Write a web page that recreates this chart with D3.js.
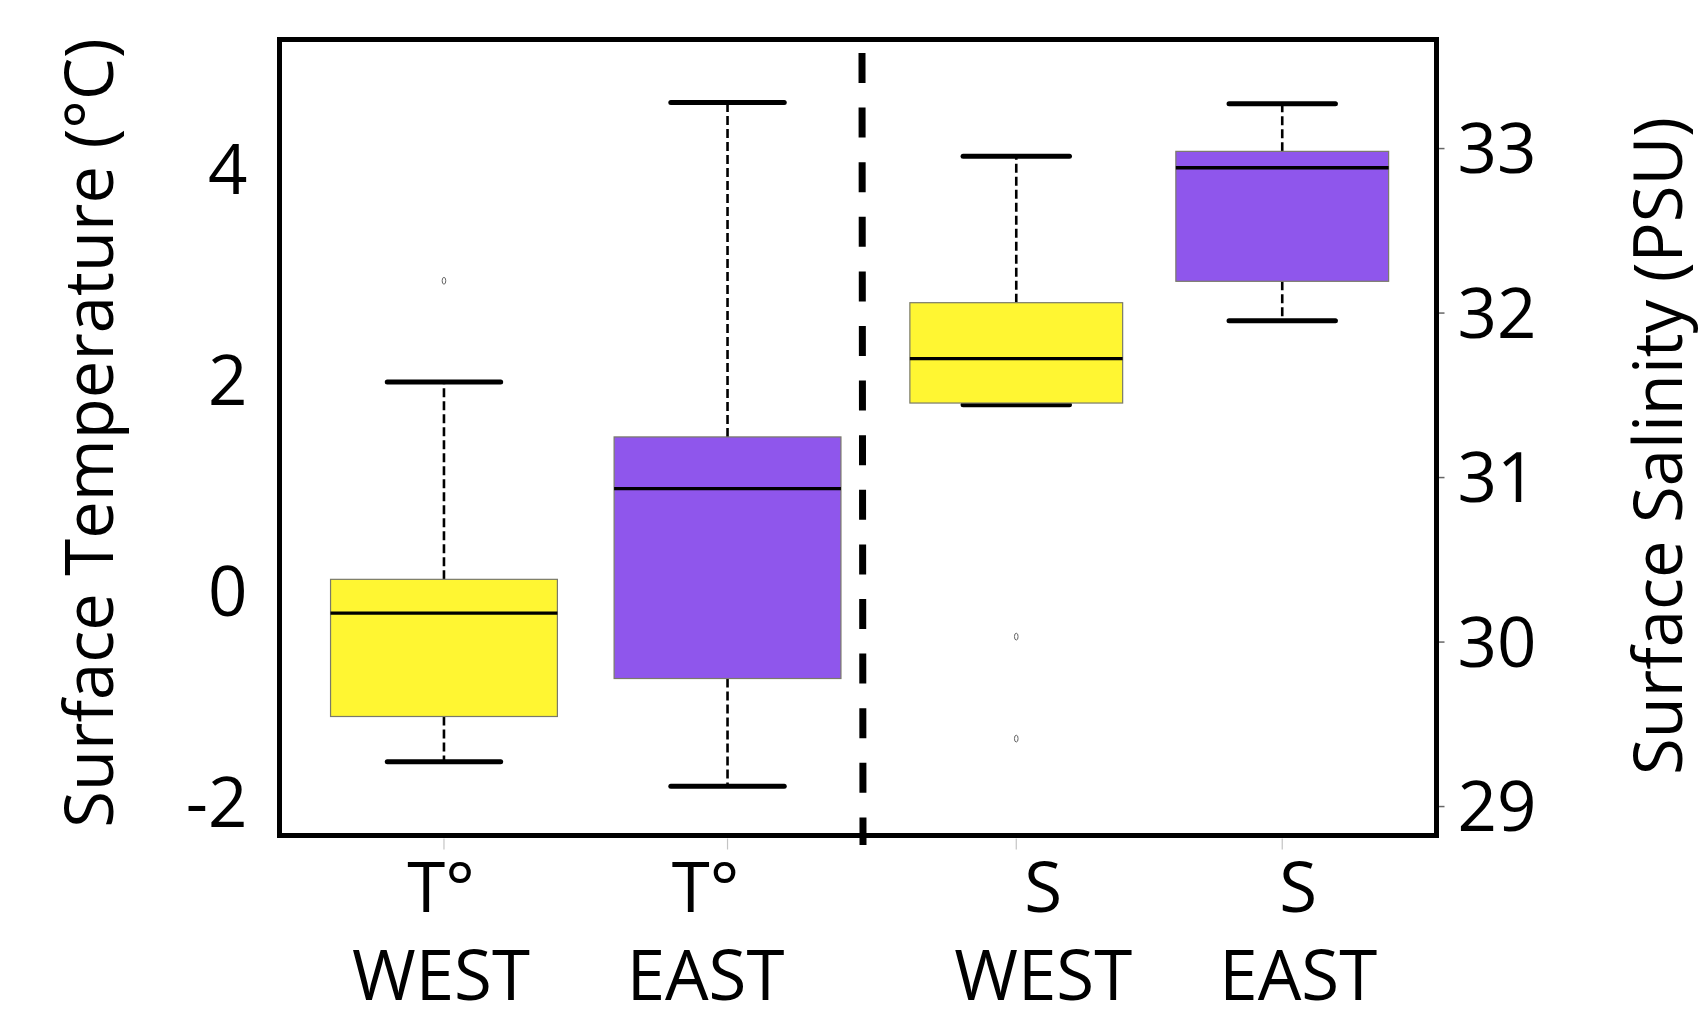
<!DOCTYPE html>
<html>
<head>
<meta charset="utf-8">
<script src="https://cdn.jsdelivr.net/npm/d3@7"></script>
<style>
  html, body { margin: 0; padding: 0; background: #fff; }
  svg { display: block; }
  text { font-family: "Open Sans", "DejaVu Sans", sans-serif; fill: #000; }
</style>
</head>
<body>
<svg id="chart" width="1703" height="1020"></svg>
<script>
// ---------------- DATA ----------------
// Temperature panel (left axis, °C)
const tempLabelTop = ["T°", "T°"];
const tempLabelBottom = ["WEST", "EAST"];
const tempWhiskerLow = [-1.62, -1.85];
const tempQ1 = [-1.19, -0.83];
const tempMedian = [-0.21, 0.97];
const tempQ3 = [0.11, 1.46];
const tempWhiskerHigh = [1.98, 4.63];
const tempOutliers = [[2.94], []];
const tempTicks = [-2, 0, 2, 4];

// Salinity panel (right axis, PSU)
const salLabelTop = ["S", "S"];
const salLabelBottom = ["WEST", "EAST"];
const salWhiskerLow = [31.44, 31.95];
const salQ1 = [31.45, 32.19];
const salMedian = [31.72, 32.88];
const salQ3 = [32.06, 32.98];
const salWhiskerHigh = [32.95, 33.27];
const salOutliers = [[30.03, 29.41], []];
const salTicks = [29, 30, 31, 32, 33];

const boxColors = ["#fff632", "#8f56ec"];

// ---------------- LAYOUT ----------------
const frame = { left: 279.5, right: 1436.5, top: 39.5, bottom: 835.5 };
const dividerX = 862;
const fontSize = 69;
const titleSize = 67;
// horizontal nudge of the category text relative to each box centre
const tempLabelShift = [-3, -22];
const salLabelShift = [27, 16];

const svg = d3.select("#chart");

// scales
const xTemp = d3.scaleLinear().domain([0.42, 2.58]).range([frame.left, 892]);
const xSal = d3.scaleLinear().domain([0.42, 2.58]).range([dividerX, frame.right]);
const yTemp = d3.scaleLinear().domain([-2.318, 5.227]).range([frame.bottom, frame.top]);
const ySal = d3.scaleLinear().domain([28.821, 33.660]).range([frame.bottom, frame.top]);

function drawPanel(x, y, stats, labelTop, labelBottom, shift) {
  const g = svg.append("g");
  const data = stats.low.map((d, i) => ({
    i, pos: i + 1,
    low: stats.low[i], q1: stats.q1[i], med: stats.med[i], q3: stats.q3[i], high: stats.high[i],
    out: stats.out[i]
  }));

  const box = g.selectAll("g.box").data(data).join("g").attr("class", "box");

  // whiskers (dashed)
  box.append("line")
    .attr("x1", d => x(d.pos)).attr("x2", d => x(d.pos))
    .attr("y1", d => y(d.q3)).attr("y2", d => y(d.high))
    .attr("stroke", "#000").attr("stroke-width", 2.6).attr("stroke-dasharray", "9,4");
  box.append("line")
    .attr("x1", d => x(d.pos)).attr("x2", d => x(d.pos))
    .attr("y1", d => y(d.q1)).attr("y2", d => y(d.low))
    .attr("stroke", "#000").attr("stroke-width", 2.6).attr("stroke-dasharray", "9,4");

  // whisker caps
  ["high", "low"].forEach(k => {
    box.append("line")
      .attr("x1", d => x(d.pos - 0.2)).attr("x2", d => x(d.pos + 0.2))
      .attr("y1", d => y(d[k])).attr("y2", d => y(d[k]))
      .attr("stroke", "#000").attr("stroke-width", 5).attr("stroke-linecap", "round");
  });

  // boxes
  box.append("rect")
    .attr("x", d => x(d.pos - 0.4))
    .attr("width", d => x(d.pos + 0.4) - x(d.pos - 0.4))
    .attr("y", d => y(d.q3))
    .attr("height", d => y(d.q1) - y(d.q3))
    .attr("fill", d => boxColors[d.i])
    .attr("stroke", "#7a7a6a").attr("stroke-width", 1.2);

  // medians
  box.append("line")
    .attr("x1", d => x(d.pos - 0.4)).attr("x2", d => x(d.pos + 0.4))
    .attr("y1", d => y(d.med)).attr("y2", d => y(d.med))
    .attr("stroke", "#000").attr("stroke-width", 3.4);

  // outliers
  box.selectAll("ellipse").data(d => d.out.map(v => ({ pos: d.pos, v })))
    .join("ellipse")
    .attr("cx", d => x(d.pos)).attr("cy", d => y(d.v))
    .attr("rx", 1.8).attr("ry", 3.4)
    .attr("fill", "none").attr("stroke", "#666").attr("stroke-width", 1);

  // x ticks (light grey, below frame)
  g.selectAll("line.xtick").data(data).join("line").attr("class", "xtick")
    .attr("x1", d => x(d.pos)).attr("x2", d => x(d.pos))
    .attr("y1", frame.bottom + 3).attr("y2", frame.bottom + 14)
    .attr("stroke", "#c4c4c4").attr("stroke-width", 1.2);

  // category labels (two lines)
  g.selectAll("text.cat1").data(data).join("text").attr("class", "cat1")
    .attr("x", d => x(d.pos) + shift[d.i]).attr("y", 912)
    .attr("text-anchor", "middle").attr("font-size", fontSize)
    .text(d => labelTop[d.i]);
  g.selectAll("text.cat2").data(data).join("text").attr("class", "cat2")
    .attr("x", d => x(d.pos) + shift[d.i]).attr("y", 1000)
    .attr("text-anchor", "middle").attr("font-size", fontSize)
    .text(d => labelBottom[d.i]);
}

drawPanel(xTemp, yTemp,
  { low: tempWhiskerLow, q1: tempQ1, med: tempMedian, q3: tempQ3, high: tempWhiskerHigh, out: tempOutliers },
  tempLabelTop, tempLabelBottom, tempLabelShift);
drawPanel(xSal, ySal,
  { low: salWhiskerLow, q1: salQ1, med: salMedian, q3: salQ3, high: salWhiskerHigh, out: salOutliers },
  salLabelTop, salLabelBottom, salLabelShift);

// left axis labels (no tick marks)
const leftAxis = d3.axisLeft(yTemp).tickValues(tempTicks).tickSize(0).tickPadding(32)
  .tickFormat(d => d < 0 ? "-" + Math.abs(d) : String(d));
const gl = svg.append("g").attr("transform", `translate(${frame.left},0)`).call(leftAxis);
gl.select(".domain").remove();
gl.selectAll("text").attr("font-size", fontSize).attr("font-family", '"Open Sans", sans-serif')
  .attr("fill", "#000").attr("dy", "0.36em");

// right axis with small ticks
const rightAxis = d3.axisRight(ySal).tickValues(salTicks).tickSize(6).tickPadding(13)
  .tickFormat(d3.format("d"));
const gr = svg.append("g").attr("transform", `translate(${frame.right + 2},0)`).call(rightAxis);
gr.select(".domain").remove();
gr.selectAll("line").attr("stroke", "#666").attr("stroke-width", 1.5);
gr.selectAll("text").attr("font-size", fontSize).attr("font-family", '"Open Sans", sans-serif')
  .attr("fill", "#000").attr("dy", "0.36em");

// frame
svg.append("rect")
  .attr("x", frame.left).attr("y", frame.top)
  .attr("width", frame.right - frame.left).attr("height", frame.bottom - frame.top)
  .attr("fill", "none").attr("stroke", "#000").attr("stroke-width", 5);

// panel divider (thick dashed)
svg.append("line")
  .attr("x1", dividerX).attr("x2", dividerX + 1)
  .attr("y1", 53).attr("y2", 845)
  .attr("stroke", "#000").attr("stroke-width", 7).attr("stroke-dasharray", "30,24.6");

// axis titles
svg.append("text")
  .attr("transform", "translate(113,433) rotate(-90)")
  .attr("text-anchor", "middle").attr("font-size", titleSize)
  .text("Surface Temperature (°C)");
svg.append("text")
  .attr("transform", "translate(1682,446) rotate(-90)")
  .attr("text-anchor", "middle").attr("font-size", titleSize)
  .text("Surface Salinity (PSU)");
</script>
</body>
</html>
